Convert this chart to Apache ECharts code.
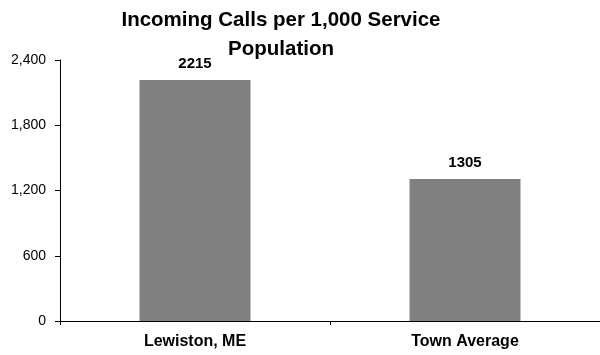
<!DOCTYPE html>
<html><head><meta charset="utf-8">
<script src="https://cdn.jsdelivr.net/npm/echarts@6/dist/echarts.min.js"></script>
<style>html,body{margin:0;padding:0;background:#fff}#c{width:600px;height:355px}</style>
</head><body><div id="c"></div>
<script>
var categories = ["Lewiston, ME", "Town Average"];
var values = [2215, 1305];
var yTicks = [0, 600, 1200, 1800, 2400];
var titleText = "Incoming Calls per 1,000 Service\nPopulation";

var chart = echarts.init(document.getElementById('c'), null, {renderer: 'canvas'});
chart.setOption({
  animation: false,
  backgroundColor: '#fff',
  title: {
    text: titleText,
    left: 276, top: 1, textAlign: 'center',
    textStyle: {fontFamily: 'Liberation Sans', fontWeight: 'bold', fontSize: 20.5, color: '#000', lineHeight: 29}
  },
  grid: {left: 60, top: 60, bottom: 34, width: 548},
  xAxis: {
    type: 'category', data: categories,
    axisLine: {lineStyle: {color: '#000', width: 1}},
    axisTick: {show: true, length: 4, inside: false, lineStyle: {color: '#000'}},
    axisLabel: {fontFamily: 'Liberation Sans', fontWeight: 'bold', fontSize: 16, color: '#000', margin: 13},
    splitLine: {show: false}
  },
  yAxis: {
    type: 'value', min: yTicks[0], max: yTicks[yTicks.length-1], interval: 600,
    axisLine: {show: true, lineStyle: {color: '#000', width: 1}},
    axisTick: {show: true, length: 5, lineStyle: {color: '#000'}},
    axisLabel: {fontFamily: 'Liberation Sans', fontSize: 14, color: '#000', margin: 14,
      formatter: function(v){ return v.toLocaleString('en-US'); }},
    splitLine: {show: false}
  },
  series: [{
    type: 'bar', data: values, barWidth: 111,
    itemStyle: {color: '#808080'},
    label: {show: true, position: 'top', distance: 9, fontFamily: 'Liberation Sans', fontWeight: 'bold', fontSize: 15, color: '#000'}
  }]
});
</script></body></html>
